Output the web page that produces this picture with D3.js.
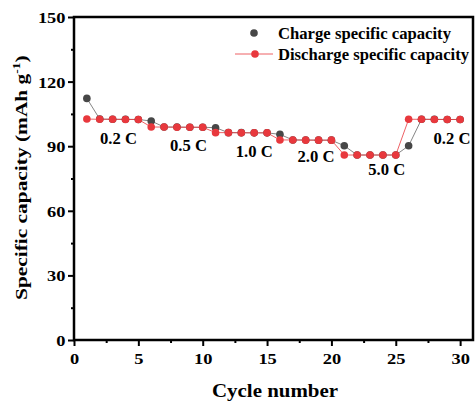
<!DOCTYPE html>
<html>
<head>
<meta charset="utf-8">
<script src="https://cdn.jsdelivr.net/npm/d3@7"></script>
<style>
  body { margin: 0; background: #fff; }
  svg { display: block; }
  text { font-family: "Liberation Serif", "Times New Roman", serif; font-weight: bold; fill: #000; }
</style>
</head>
<body>
<svg id="chart" width="475" height="402"></svg>
<script>
// Rate-capability data: cycle number vs specific capacity (mAh g^-1)
const cycles = d3.range(1, 31);
const chargeCapacity = [
  112.2, 102.6, 102.5, 102.5, 102.4,
  101.7, 98.9, 98.9, 98.8, 98.8,
  98.6, 96.3, 96.3, 96.2, 96.2,
  95.5, 92.9, 92.9, 92.8, 92.8,
  90.2, 85.9, 85.9, 85.9, 85.9,
  90.2, 102.5, 102.5, 102.4, 102.4
];
const dischargeCapacity = [
  102.6, 102.5, 102.5, 102.4, 102.4,
  98.9, 98.9, 98.8, 98.8, 98.8,
  96.3, 96.3, 96.2, 96.2, 96.2,
  92.9, 92.9, 92.8, 92.8, 92.8,
  85.9, 85.9, 85.9, 85.9, 85.9,
  102.5, 102.5, 102.4, 102.4, 102.4
];
const rateLabels = ["0.2 C", "0.5 C", "1.0 C", "2.0 C", "5.0 C", "0.2 C"];
const rateLabelCycle = [3.46, 8.9, 14.0, 18.8, 24.3, 29.37];
const rateLabelValue = [91.0, 87.8, 85.0, 82.6, 76.4, 91.0];
const xTicks = [0, 5, 10, 15, 20, 25, 30];
const yTicks = [0, 30, 60, 90, 120, 150];
const seriesNames = ["Charge specific capacity", "Discharge specific capacity"];

const svg = d3.select("#chart");
const plotLeft = 74, plotRight = 473, plotTop = 17, plotBottom = 340;

const x = d3.scaleLinear().domain([0, 31]).range([plotLeft, plotRight]);
const y = d3.scaleLinear().domain([0, 150]).range([plotBottom, plotTop]);

const chargeColor = "#474747";
const dischargeColor = "#e8383d";

// Stretch a text run to a set width (wide bold serif lettering)
function fit(sel, width) {
  return sel.attr("textLength", width).attr("lengthAdjust", "spacingAndGlyphs");
}
const digitWidth = 9.2;

// Minor ticks
const xMinor = d3.range(0, 31, 2.5).filter(v => v % 5 !== 0);
const yMinor = d3.range(0, 151, 15).filter(v => v % 30 !== 0);

svg.append("g")
  .attr("transform", `translate(0,${plotBottom})`)
  .call(d3.axisBottom(x).tickValues(xMinor).tickSize(3).tickFormat(""))
  .call(g => g.select(".domain").remove())
  .call(g => g.selectAll("line").attr("stroke-width", 2));
svg.append("g")
  .attr("transform", `translate(${plotLeft},0)`)
  .call(d3.axisLeft(y).tickValues(yMinor).tickSize(3).tickFormat(""))
  .call(g => g.select(".domain").remove())
  .call(g => g.selectAll("line").attr("stroke-width", 2));

// Major axes
const xAxis = svg.append("g")
  .attr("transform", `translate(0,${plotBottom})`)
  .call(d3.axisBottom(x).tickValues(xTicks).tickSize(6).tickPadding(7).tickFormat(d3.format("d")));
xAxis.select(".domain").remove();
xAxis.selectAll("line").attr("stroke-width", 2);
xAxis.selectAll("text")
  .attr("font-size", 15.5)
  .style("font-family", "Liberation Serif").style("font-weight", "bold")
  .each(function(d) { fit(d3.select(this), String(d).length * digitWidth); });

const yAxis = svg.append("g")
  .attr("transform", `translate(${plotLeft},0)`)
  .call(d3.axisLeft(y).tickValues(yTicks).tickSize(6).tickPadding(2.5).tickFormat(d3.format("d")));
yAxis.select(".domain").remove();
yAxis.selectAll("line").attr("stroke-width", 2);
yAxis.selectAll("text")
  .attr("font-size", 15.5).attr("dy", "0.36em")
  .style("font-family", "Liberation Serif").style("font-weight", "bold")
  .each(function(d) { fit(d3.select(this), String(d).length * digitWidth); });

// Frame
svg.append("rect")
  .attr("x", plotLeft).attr("y", plotTop)
  .attr("width", plotRight - plotLeft).attr("height", plotBottom - plotTop)
  .attr("fill", "none").attr("stroke", "#000").attr("stroke-width", 2.5);

// Series lines
const line = d3.line().x((d, i) => x(cycles[i])).y(d => y(d));
svg.append("path").datum(chargeCapacity)
  .attr("d", line).attr("fill", "none").attr("stroke", "#666").attr("stroke-width", 0.8);
svg.append("path").datum(dischargeCapacity)
  .attr("d", line).attr("fill", "none").attr("stroke", dischargeColor).attr("stroke-width", 0.8);

// Markers
svg.append("g").selectAll("circle").data(chargeCapacity).join("circle")
  .attr("cx", (d, i) => x(cycles[i])).attr("cy", d => y(d))
  .attr("r", 3.8).attr("fill", chargeColor);
svg.append("g").selectAll("circle").data(dischargeCapacity).join("circle")
  .attr("cx", (d, i) => x(cycles[i])).attr("cy", d => y(d))
  .attr("r", 3.8).attr("fill", dischargeColor);

// Rate annotations
svg.append("g").selectAll("text").data(rateLabels).join("text")
  .attr("x", (d, i) => x(rateLabelCycle[i]))
  .attr("y", (d, i) => y(rateLabelValue[i]))
  .attr("text-anchor", "middle")
  .attr("font-size", 16)
  .text(d => d)
  .each(function() { fit(d3.select(this), 37); });

// Legend
const lg = svg.append("g");
lg.append("circle").attr("cx", 254).attr("cy", 33).attr("r", 3.8).attr("fill", chargeColor);
fit(lg.append("text").attr("x", 278).attr("y", 39).attr("font-size", 16).text(seriesNames[0]), 173);
lg.append("line").attr("x1", 235).attr("x2", 273).attr("y1", 54).attr("y2", 54)
  .attr("stroke", dischargeColor).attr("stroke-width", 0.8);
lg.append("circle").attr("cx", 255).attr("cy", 54).attr("r", 3.8).attr("fill", dischargeColor);
fit(lg.append("text").attr("x", 278).attr("y", 60).attr("font-size", 16).text(seriesNames[1]), 191);

// Axis titles
fit(svg.append("text")
  .attr("x", 275).attr("y", 397)
  .attr("text-anchor", "middle").attr("font-size", 19.5)
  .text("Cycle number"), 126);

// Vertical title: runs upward from y = 300, stretched along its run to 245px
const titleBottom = 300, titleRun = 245;
const yt = svg.append("text")
  .attr("text-anchor", "start").attr("font-size", 17.5);
yt.append("tspan").text("Specific capacity (mAh g");
yt.append("tspan").attr("font-size", 11).attr("dy", -7).text("-1");
yt.append("tspan").attr("dy", 7).text(")");
const natural = yt.node().getBBox().width;
yt.attr("transform", `translate(27,${titleBottom}) rotate(-90) scale(${titleRun / natural},1)`);
</script>
</body>
</html>
